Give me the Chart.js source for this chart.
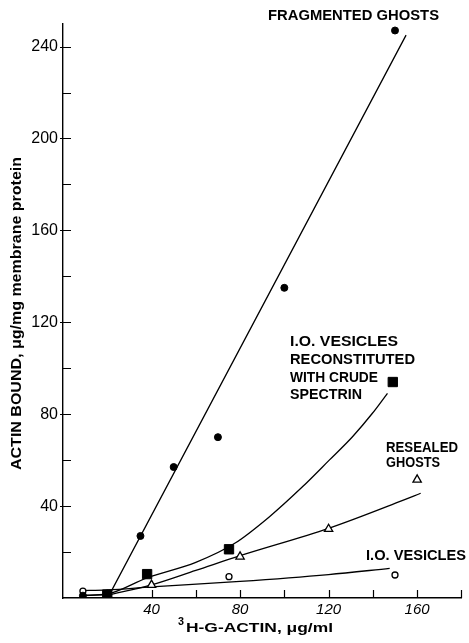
<!DOCTYPE html>
<html lang="en">
<head>
  <meta charset="UTF-8">
  <title>Actin binding</title>
  <script src="https://cdn.jsdelivr.net/npm/chart.js"></script>
  <style>
    html, body { margin: 0; padding: 0; background: #fff; }
    .chart-container { width: 469px; height: 643px; position: relative; }
  </style>
</head>
<body>
  <div class="chart-container">
    <canvas id="chartActin"></canvas>
  </div>

  <script>
    const fragX = [9, 20, 35, 50, 70, 100, 150];
    const fragY = [1, 1.5, 27, 57, 70, 135, 247];
    const reconX = [20, 38, 75, 149];
    const reconY = [1.5, 10.4, 21.2, 94];
    const resealX = [20, 40, 80, 120, 160];
    const resealY = [1, 5.7, 18, 30, 51.5];
    const ioX = [9, 20, 75, 150];
    const ioY = [3, 2, 9.3, 10];

    // hand drawn fit curves
    const fragFitX = [9, 21, 155];
    const fragFitY = [1, 1.5, 245];
    const reconFitX = [9, 20, 38, 60, 77.6, 93.3, 108.3, 120.3, 130.8, 139.8, 146.6];
    const reconFitY = [1.2, 1.8, 8.8, 15.5, 23.8, 35.4, 48.5, 60, 70.2, 80.4, 89.1];
    const resealFitX = [20, 40, 60, 80, 120, 152, 161.6];
    const resealFitY = [1.2, 5.7, 12, 18.4, 30.3, 41.9, 45.6];
    const ioFitX = [8, 20, 40, 80, 120, 147.6];
    const ioFitY = [3.2, 3.5, 4.8, 7.2, 10.2, 12.9];

    const xTickLabels = [40, 80, 120, 160];
    const yTickLabels = [40, 80, 120, 160, 200, 240];

    const toPts = (xs, ys) => xs.map((x, i) => ({ x: x, y: ys[i] }));

    function drawFit(ctx, text, x, y, w, font) {
      ctx.save();
      ctx.font = font;
      const m = ctx.measureText(text).width;
      ctx.translate(x, y);
      ctx.scale(w / m, 1);
      ctx.fillText(text, 0, 0);
      ctx.restore();
    }

    // inside ticks, annotations and axis titles
    const decorations = {
      id: 'decorations',
      afterDraw(chart) {
        const ctx = chart.ctx;
        const xs = chart.scales.x, ys = chart.scales.y;
        ctx.save();
        ctx.strokeStyle = '#000';
        ctx.lineWidth = 1.2;
        ctx.beginPath();
        for (let v = 20; v <= 240; v += 20) {
          const py = Math.round(ys.getPixelForValue(v)) + 0.5;
          const start = yTickLabels.includes(v) ? xs.left - 3 : xs.left;
          ctx.moveTo(start, py);
          ctx.lineTo(xs.left + 8, py);
        }
        for (let v = 20; v <= 180; v += 20) {
          const px = Math.round(xs.getPixelForValue(v)) + 0.5;
          ctx.moveTo(px, ys.bottom);
          ctx.lineTo(px, ys.bottom - 8);
        }
        ctx.stroke();

        ctx.fillStyle = '#000';
        ctx.textBaseline = 'middle';
        ctx.textAlign = 'left';
        const big = 'bold 15px "Liberation Sans", Arial, sans-serif';
        const bold = 'bold 14px "Liberation Sans", Arial, sans-serif';
        drawFit(ctx, 'FRAGMENTED GHOSTS', 268, 16, 171, big);
        drawFit(ctx, 'I.O. VESICLES', 290, 342, 108, bold);
        drawFit(ctx, 'RECONSTITUTED', 290, 360, 125, bold);
        drawFit(ctx, 'WITH CRUDE', 290, 378, 88, bold);
        drawFit(ctx, 'SPECTRIN', 290, 395, 72, bold);
        drawFit(ctx, 'RESEALED', 386, 448.5, 72, bold);
        drawFit(ctx, 'GHOSTS', 386, 463.5, 54, bold);
        drawFit(ctx, 'I.O. VESICLES', 366, 556, 100, big);

        // x title with superscript 3
        drawFit(ctx, '3', 178, 622, 6, 'bold 10px "Liberation Sans", Arial, sans-serif');
        drawFit(ctx, 'H-G-ACTIN, \u03bcg/ml', 186, 628, 147, 'bold 13px "Liberation Sans", Arial, sans-serif');

        // y title, rotated
        ctx.save();
        ctx.translate(17, 470);
        ctx.rotate(-Math.PI / 2);
        drawFit(ctx, 'ACTIN BOUND, \u03bcg/mg membrane protein', 0, 0, 313, 'bold 14px "Liberation Sans", Arial, sans-serif');
        ctx.restore();
        ctx.restore();
      }
    };

    const lineStyle = {
      showLine: true,
      borderColor: '#000',
      borderWidth: 1.3,
      pointRadius: 0,
      fill: false
    };

    new Chart(document.getElementById('chartActin').getContext('2d'), {
      type: 'scatter',
      data: {
        datasets: [
          { label: 'Fragmented ghosts', data: toPts(fragX, fragY), pointStyle: 'circle', pointRadius: 3.5, backgroundColor: '#000', borderColor: '#000', borderWidth: 1 },
          { label: 'I.O. vesicles + crude spectrin', data: toPts(reconX, reconY), pointStyle: 'rect', pointRadius: 6.6, backgroundColor: '#000', borderColor: '#000', borderWidth: 1 },
          { label: 'Resealed ghosts', data: toPts(resealX, resealY), pointStyle: 'triangle', pointRadius: 4.8, backgroundColor: '#fff', borderColor: '#000', borderWidth: 1.3 },
          { label: 'I.O. vesicles', data: toPts(ioX, ioY), pointStyle: 'circle', pointRadius: 3, backgroundColor: '#fff', borderColor: '#000', borderWidth: 1.3 },
          Object.assign({ label: 'fit frag', data: toPts(fragFitX, fragFitY), tension: 0 }, lineStyle),
          Object.assign({ label: 'fit recon', data: toPts(reconFitX, reconFitY), cubicInterpolationMode: 'monotone' }, lineStyle),
          Object.assign({ label: 'fit reseal', data: toPts(resealFitX, resealFitY), cubicInterpolationMode: 'monotone' }, lineStyle),
          Object.assign({ label: 'fit io', data: toPts(ioFitX, ioFitY), cubicInterpolationMode: 'monotone' }, lineStyle)
        ]
      },
      options: {
        responsive: true,
        maintainAspectRatio: false,
        animation: false,
        layout: { padding: { left: 0, right: 6.5, top: 23.6, bottom: 0 } },
        plugins: { legend: { display: false }, tooltip: { enabled: false } },
        scales: {
          x: {
            type: 'linear',
            min: 0,
            max: 180,
            grid: { display: false, drawTicks: false },
            border: { display: true, color: '#000', width: 1.4 },
            afterFit: scale => { scale.height = 45; },
            ticks: {
              stepSize: 20,
              autoSkip: false,
              includeBounds: false,
              maxRotation: 0,
              padding: 3,
              color: '#000',
              font: { family: '"Liberation Sans", Arial, sans-serif', size: 15, style: 'italic' },
              callback: v => xTickLabels.includes(v) ? String(v) : ''
            }
          },
          y: {
            type: 'linear',
            min: 0,
            max: 250,
            grid: { display: false, drawTicks: false },
            border: { display: true, color: '#000', width: 1.4 },
            afterFit: scale => { scale.width = 63; },
            ticks: {
              stepSize: 20,
              autoSkip: false,
              includeBounds: false,
              padding: 5,
              color: '#000',
              font: { family: '"Liberation Sans", Arial, sans-serif', size: 16 },
              callback: v => yTickLabels.includes(v) ? String(v) : ''
            }
          }
        }
      },
      plugins: [decorations]
    });
  </script>
</body>
</html>
